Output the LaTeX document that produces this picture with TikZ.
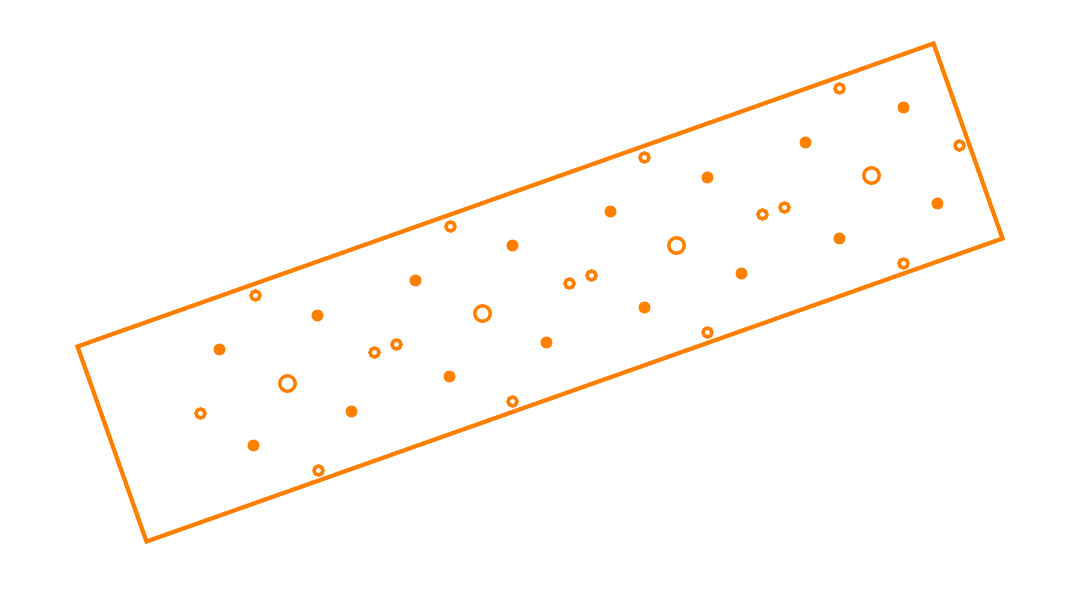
\documentclass[tikz,border=0pt]{standalone}
\usepackage{tikz}
\usepackage{xcolor}
\definecolor{arancio}{RGB}{255,128,0}

\begin{document}
\begin{tikzpicture}[x=0.025cm, y=-0.025cm,
  punto/.style={fill=arancio},
  anello/.style={draw=arancio, line width=2.5pt},
  anellogrande/.style={draw=arancio, line width=2.4pt}]

\useasboundingbox (0,0) rectangle (1080,592);

%------------------------------------------------
% Cornice ruotata
%------------------------------------------------
\draw[arancio, line width=3pt, line join=miter]
  (77.5,346.5) -- (933.5,43.5) -- (1002.5,238.5) -- (146.5,541.5) -- cycle;

% Punti pieni
\foreach \x/\y in {219/349, 317/315, 415/280, 512/245, 610/211, 707/177,
                   805/142, 903/107, 253/445, 351/411, 449/376, 546/342,
                   644/307, 741/273, 839/238, 937/203}
  \fill[punto] (\x+0.5,\y+0.5) circle (4.25pt);

% Anelli piccoli
\foreach \x/\y in {255/295, 200/413, 318/470, 374/352, 396/344, 450/226,
                   512/401, 569/283, 591/275, 644/157, 707/332, 762/214,
                   784/207, 839/88, 903/263, 959/145}
  \draw[anello] (\x+0.5,\y+0.5) circle (3.2pt);

% Anelli grandi
\foreach \x/\y in {287/383, 482/313, 676/245, 871/175}
  \draw[anellogrande] (\x+0.5,\y+0.5) circle (5.5pt);

\end{tikzpicture}
\end{document}
